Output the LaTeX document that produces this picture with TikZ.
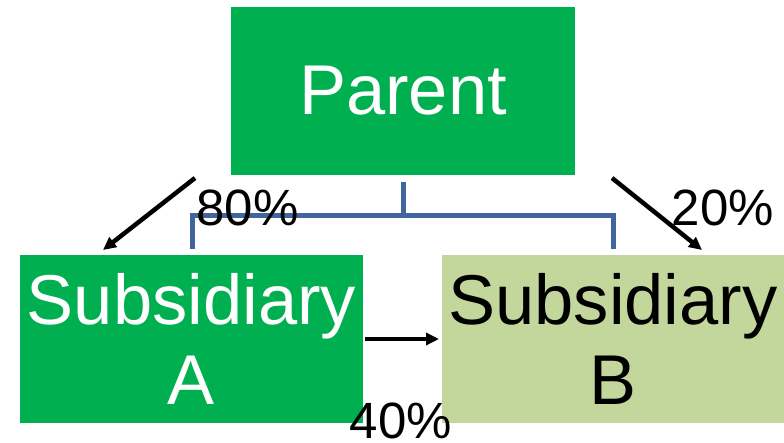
\documentclass[tikz,border=0pt]{standalone}
\usepackage{fontspec}
\setmainfont{Liberation Sans}
\usetikzlibrary{arrows.meta}
\definecolor{boxgreen}{HTML}{00B050}
\definecolor{boxlight}{HTML}{C3D69B}
\definecolor{linkblue}{HTML}{41669D}
\tikzset{
  entity/.style={draw=none, inner sep=0pt, minimum width=343pt, minimum height=168pt,
    align=center, font=\fontsize{70.5}{80}\selectfont},
  pct/.style={inner sep=0pt, anchor=base, font=\fontsize{51}{60}\selectfont},
  owner/.style={line width=4.5pt, -{Triangle[length=13pt,width=12pt]}},
  link/.style={linkblue, line width=5pt}
}
\begin{document}
\begin{tikzpicture}[x=1pt,y=-1pt]
\useasboundingbox (0,0) rectangle (784,442);
\node[entity, fill=boxgreen, text=white, minimum width=344pt] (parent) at (403,91) {Parent};
\node[entity, fill=boxgreen, text=white] (subA) at (191.5,339) {Subsidiary\\A};
\node[entity, fill=boxlight, text=black, minimum width=342pt] (subB) at (613,339) {Subsidiary\\B};
% blue org connector
\coordinate (pbot) at (403,182);
\coordinate (mid) at (403,215);
\coordinate (atop) at (192,249);
\coordinate (btop) at (613,249);
\draw[link] (pbot) -- (mid);
\draw[link] (atop) |- (mid) -| (btop);
% ownership arrows
\coordinate (a1s) at (195,178);
\coordinate (a1e) at (103,250);
\coordinate (a2s) at (612,178);
\coordinate (a2e) at (702,250);
\coordinate (a3s) at (365,339);
\coordinate (a3e) at (439,339);
\draw[owner] (a1s) -- (a1e);
\draw[owner] (a2s) -- (a2e);
\draw[owner] (a3s) -- (a3e);
% labels
\node[pct] (l80) at (247.5,225) {80\%};
\node[pct] (l20) at (723,225) {20\%};
\node[pct] (l40) at (401,438) {40\%};
\end{tikzpicture}
\end{document}
